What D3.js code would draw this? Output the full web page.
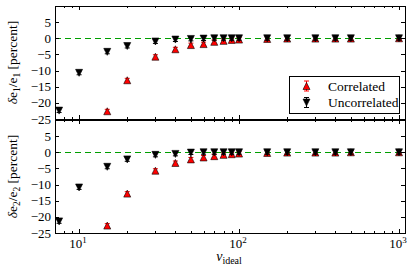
<!DOCTYPE html>
<html>
<head>
<meta charset="utf-8">
<script src="https://cdn.jsdelivr.net/npm/d3@7"></script>
<style>
  body { margin: 0; background: #fff; }
</style>
</head>
<body>
<script>
// values
var nu = [7.5, 10, 15, 20, 30, 40, 50, 60, 70, 80, 90, 100, 150, 200, 300, 400, 500, 1000];
var corrE1   = [null, null, -22.6, -13.0, -5.7, -3.4, -2.1, -1.8, -1.1, -0.8, -0.5, -0.4, -0.2, -0.1, -0.1, -0.1, -0.1, 0.0];
var uncorrE1 = [-22.4, -10.7, -4.2, -2.4, -1.0, -0.4, -0.2, -0.1, 0.0, 0.0, 0.0, 0.0, 0.0, 0.0, 0.0, 0.0, 0.0, 0.0];
var corrE2   = [null, null, -22.7, -12.8, -5.7, -3.3, -2.2, -1.6, -1.2, -0.8, -0.6, -0.4, -0.2, -0.1, -0.1, -0.1, 0.0, 0.0];
var uncorrE2 = [-21.4, -10.9, -4.5, -2.2, -0.8, -0.5, -0.1, 0.0, 0.0, 0.0, 0.0, 0.0, 0.0, 0.0, 0.0, 0.0, 0.0, 0.0];
var errBar = [0.6, 0.6, 0.6, 0.6, 0.6, 0.6, 0.6, 0.6, 0.6, 0.6, 0.6, 0.6, 0.6, 0.6, 0.6, 0.6, 0.6, 0.6];
var yTicks = [-25, -20, -15, -10, -5, 0, 5];
var xMajor = [10, 100, 1000];
var xMinor = [8, 9, 20, 30, 40, 50, 60, 70, 80, 90, 200, 300, 400, 500, 600, 700, 800, 900];
var legendLabels = ["Correlated", "Uncorrelated"];

var W = 415, H = 275;
var svg = d3.select("body").append("svg").attr("width", W).attr("height", H)
  .attr("font-family", "'Liberation Serif', 'Times New Roman', serif");

var x = d3.scaleLog().domain([7.07, 1090]).range([55, 405]);

// triangle path, up or down, centred on the point
function tri(cx, cy, s, up) {
  var h = s * 0.5;
  if (up) return "M" + cx + "," + (cy - h) + "L" + (cx - h) + "," + (cy + h) + "L" + (cx + h) + "," + (cy + h) + "Z";
  return "M" + cx + "," + (cy + h) + "L" + (cx - h) + "," + (cy - h) + "L" + (cx + h) + "," + (cy - h) + "Z";
}

var panels = [
  {top: 6, bottom: 119, corr: corrE1, uncorr: uncorrE1, sub: "1", xlabels: false},
  {top: 120, bottom: 233, corr: corrE2, uncorr: uncorrE2, sub: "2", xlabels: true}
];

panels.forEach(function(p) {
  var y = d3.scaleLinear().domain([-25, 10]).range([p.bottom, p.top]);
  var g = svg.append("g");

  // zero line
  g.append("line")
    .attr("x1", x.range()[0]).attr("x2", x.range()[1])
    .attr("y1", Math.round(y(0)) + 0.5).attr("y2", Math.round(y(0)) + 0.5)
    .attr("stroke", "#00a000").attr("stroke-width", 1.2)
    .attr("stroke-dasharray", "6,4");

  // series: correlated first, then uncorrelated on top
  var series = [
    {vals: p.corr, up: true, fill: "#ff0000", ebar: "#ff0000"},
    {vals: p.uncorr, up: false, fill: "#000000", ebar: "#000000"}
  ];
  series.forEach(function(s) {
    var pts = nu.map(function(d, i) { return {x: d, y: s.vals[i], e: errBar[i]}; })
                .filter(function(d) { return d.y !== null; });
    var eg = g.append("g");
    pts.forEach(function(d) {
      var cx = x(d.x), y0 = y(d.y - d.e), y1 = y(d.y + d.e);
      eg.append("line").attr("x1", cx).attr("x2", cx).attr("y1", y0).attr("y2", y1)
        .attr("stroke", s.ebar).attr("stroke-width", 1);
      [y0, y1].forEach(function(yy) {
        eg.append("line").attr("x1", cx - 2.5).attr("x2", cx + 2.5).attr("y1", yy).attr("y2", yy)
          .attr("stroke", s.ebar).attr("stroke-width", 1);
      });
    });
    g.append("g").selectAll("path").data(pts).enter().append("path")
      .attr("d", function(d) { return tri(x(d.x), y(d.y), 7, s.up); })
      .attr("fill", s.fill).attr("stroke", "#000").attr("stroke-width", 0.6);
  });

  // frame
  g.append("rect")
    .attr("x", x.range()[0] + 0.5).attr("y", p.top + 0.5)
    .attr("width", x.range()[1] - x.range()[0]).attr("height", p.bottom - p.top)
    .attr("fill", "none").attr("stroke", "#000").attr("stroke-width", 1);

  // y ticks, inside on both sides
  yTicks.forEach(function(t) {
    var yy = Math.round(y(t)) + 0.5;
    g.append("line").attr("x1", x.range()[0]).attr("x2", x.range()[0] + 4).attr("y1", yy).attr("y2", yy).attr("stroke", "#000");
    g.append("line").attr("x1", x.range()[1]).attr("x2", x.range()[1] - 4).attr("y1", yy).attr("y2", yy).attr("stroke", "#000");
    g.append("text").attr("x", 51).attr("y", y(t) + 4.5)
      .attr("text-anchor", "end").attr("font-size", "13px")
      .text(t < 0 ? "\u2212" + Math.abs(t) : String(t));
  });

  // x ticks, inside top and bottom
  xMajor.concat(xMinor).forEach(function(t) {
    var len = xMajor.indexOf(t) >= 0 ? 4 : 2;
    var xx = Math.round(x(t)) + 0.5;
    g.append("line").attr("x1", xx).attr("x2", xx).attr("y1", p.bottom).attr("y2", p.bottom - len).attr("stroke", "#000");
    g.append("line").attr("x1", xx).attr("x2", xx).attr("y1", p.top).attr("y2", p.top + len).attr("stroke", "#000");
  });

  if (p.xlabels) {
    xMajor.forEach(function(t) {
      var txt = g.append("text").attr("x", x(t) - 1).attr("y", p.bottom + 15)
        .attr("text-anchor", "middle").attr("font-size", "13px");
      txt.append("tspan").text("10");
      txt.append("tspan").attr("dy", -5).attr("font-size", "9px").text(String(Math.round(Math.log10(t))));
    });
  }

  // y label
  var cy = (p.top + p.bottom) / 2;
  var lab = g.append("text").attr("transform", "translate(17," + cy + ") rotate(-90)")
    .attr("text-anchor", "middle").attr("font-size", "13.5px");
  lab.append("tspan").attr("font-style", "italic").text("\u03b4");
  lab.append("tspan").text("e");
  lab.append("tspan").attr("dy", 3).attr("font-size", "9.5px").text(p.sub);
  lab.append("tspan").attr("dy", -3).text("/e");
  lab.append("tspan").attr("dy", 3).attr("font-size", "9.5px").text(p.sub);
  lab.append("tspan").attr("dy", -3).text(" [percent]");
});

// x label
var xl = svg.append("text").attr("x", 229).attr("y", 261).attr("text-anchor", "middle").attr("font-size", "14px");
xl.append("tspan").attr("font-style", "italic").text("\u03bd");
xl.append("tspan").attr("dy", 3).attr("font-size", "10px").text("ideal");

// legend
var lg = svg.append("g");
lg.append("rect").attr("x", 289.5).attr("y", 76.5).attr("width", 110).attr("height", 37)
  .attr("fill", "#fff").attr("stroke", "#000").attr("stroke-width", 1);
legendLabels.forEach(function(name, i) {
  var cy = 86 + i * 16.5, cx = 306.5, col = i === 0 ? "#ff0000" : "#000000";
  lg.append("line").attr("x1", cx).attr("x2", cx).attr("y1", cy - 5).attr("y2", cy + 5).attr("stroke", col);
  [cy - 5, cy + 5].forEach(function(yy) {
    lg.append("line").attr("x1", cx - 2.5).attr("x2", cx + 2.5).attr("y1", yy).attr("y2", yy).attr("stroke", col);
  });
  lg.append("path").attr("d", tri(cx, cy, 7, i === 0))
    .attr("fill", col).attr("stroke", "#000").attr("stroke-width", 0.6);
  lg.append("text").attr("x", 328).attr("y", cy + 4.5).attr("font-size", "13.5px").text(name);
});
</script>
</body>
</html>
